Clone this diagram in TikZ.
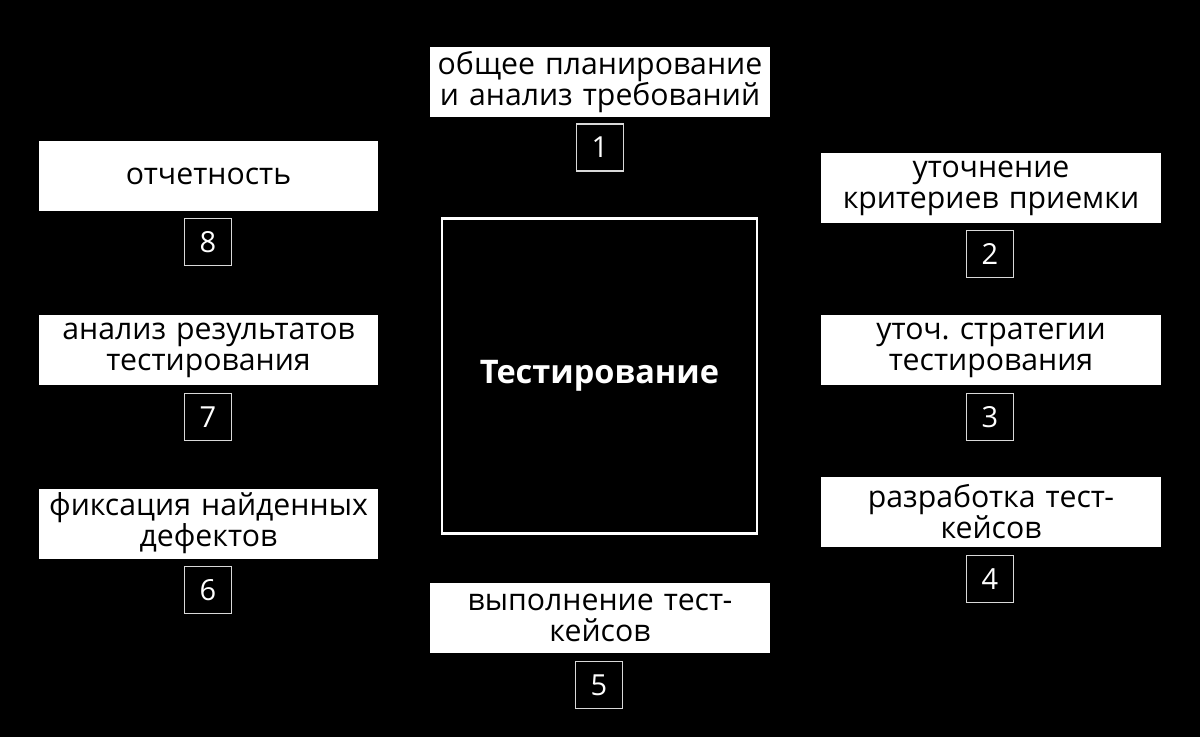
\documentclass[tikz,border=0pt]{standalone}
\usepackage{fontspec}
\setmainfont{Open Sans}
\frenchspacing

\begin{document}
\begin{tikzpicture}[x=0.02cm, y=-0.02cm]
	\tikzset{step box/.style={draw=none, fill=white, text=black, minimum width=6.8cm, minimum height=1.4cm, text width=6.8cm, align=center, inner sep=0pt, font=\fontsize{17.2}{17.6}\selectfont},
		num box/.style={draw=white!85!black, line width=0.8pt, fill=black, text=white, minimum size=0.94cm, inner sep=0pt, font=\fontsize{16.5}{18}\selectfont}};
	
	\fill[black] (0,0) rectangle (1200,737);
	
	% centre
	\node[draw=white, line width=1.2pt, minimum size=6.3cm, text=white, font=\fontsize{18.5}{20}\selectfont\bfseries] (c) at (599.5,376) {Тестирование};
	
	% steps
	\node[step box] (s1) at (600,82) {общее планирование\\и анализ требований};
	\node[step box] (s2) at (991,188) {уточнение\\критериев приемки};
	\node[step box] (s3) at (991,350) {уточ. стратегии\\тестирования};
	\node[step box] (s4) at (991,512) {разработка тест-\\кейсов};
	\node[step box] (s5) at (600,617.5) {выполнение тест-\\кейсов};
	\node[step box] (s6) at (208.5,523.5) {фиксация найденных\\дефектов};
	\node[step box] (s7) at (208.5,350) {анализ результатов\\тестирования};
	\node[step box] (s8) at (208.5,176) {отчетность};
	
	% numbers
	\node[num box] (n1) at (600,147.5) {1};
	\node[num box] (n2) at (990,254) {2};
	\node[num box] (n3) at (990,417) {3};
	\node[num box] (n4) at (990,579) {4};
	\node[num box] (n5) at (599,685) {5};
	\node[num box] (n6) at (208,590) {6};
	\node[num box] (n7) at (208,417) {7};
	\node[num box] (n8) at (208,242) {8};
\end{tikzpicture}
\end{document}
